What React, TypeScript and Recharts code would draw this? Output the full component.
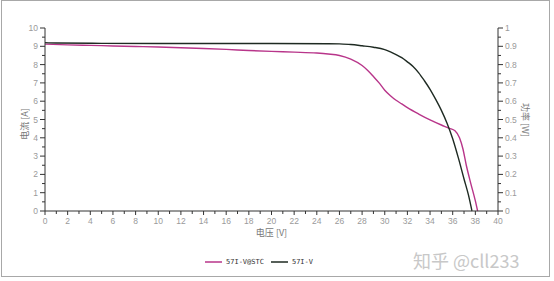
import React from 'react';
import { LineChart, Line, XAxis, YAxis, Legend } from 'recharts';

const stcCurve = [
  { v: 0, i: 9.12 }, { v: 2, i: 9.08 }, { v: 4, i: 9.05 }, { v: 6, i: 9.02 }, { v: 8, i: 8.99 },
  { v: 10, i: 8.96 }, { v: 12, i: 8.92 }, { v: 14, i: 8.88 }, { v: 16, i: 8.83 }, { v: 18, i: 8.77 },
  { v: 20, i: 8.72 }, { v: 22, i: 8.68 }, { v: 24, i: 8.63 }, { v: 25, i: 8.58 }, { v: 26, i: 8.5 },
  { v: 27, i: 8.3 }, { v: 28, i: 7.95 }, { v: 28.5, i: 7.68 }, { v: 29, i: 7.35 }, { v: 29.5, i: 7.0 },
  { v: 30, i: 6.6 }, { v: 30.5, i: 6.3 }, { v: 31, i: 6.05 }, { v: 31.5, i: 5.85 }, { v: 32, i: 5.65 },
  { v: 33, i: 5.3 }, { v: 34, i: 4.98 }, { v: 35, i: 4.7 }, { v: 35.7, i: 4.52 }, { v: 36.2, i: 4.38 },
  { v: 36.6, i: 4.0 }, { v: 36.9, i: 3.4 }, { v: 37.2, i: 2.5 }, { v: 37.6, i: 1.5 }, { v: 38, i: 0.55 },
  { v: 38.2, i: 0 },
];

const ivCurve = [
  { v: 0, i: 9.2 }, { v: 1, i: 9.18 }, { v: 5, i: 9.16 }, { v: 10, i: 9.15 }, { v: 15, i: 9.15 },
  { v: 20, i: 9.15 }, { v: 25, i: 9.14 }, { v: 26, i: 9.13 }, { v: 27, i: 9.1 }, { v: 28, i: 9.03 },
  { v: 29, i: 8.95 }, { v: 30, i: 8.82 }, { v: 30.5, i: 8.7 }, { v: 31, i: 8.55 }, { v: 31.5, i: 8.38 },
  { v: 32, i: 8.15 }, { v: 32.5, i: 7.9 }, { v: 33, i: 7.55 }, { v: 33.5, i: 7.12 }, { v: 34, i: 6.65 },
  { v: 34.5, i: 6.1 }, { v: 35, i: 5.5 }, { v: 35.5, i: 4.8 }, { v: 36, i: 3.95 }, { v: 36.5, i: 2.9 },
  { v: 37, i: 1.75 }, { v: 37.4, i: 0.85 }, { v: 37.7, i: 0 },
];

const xTicks = [0,1,2,3,4,5,6,7,8,9,10,11,12,13,14,15,16,17,18,19,20,21,22,23,24,25,26,27,28,29,30,31,32,33,34,35,36,37,38,39,40];
const leftTicks = [0,0.5,1,1.5,2,2.5,3,3.5,4,4.5,5,5.5,6,6.5,7,7.5,8,8.5,9,9.5,10];
const rightTicks = [0,0.05,0.1,0.15,0.2,0.25,0.3,0.35,0.4,0.45,0.5,0.55,0.6,0.65,0.7,0.75,0.8,0.85,0.9,0.95,1];

const seriesNames = ['57I-V@STC', '57I-V'];
const seriesColors = ['#b8358a', '#1e2a22'];
const xTitle = '电压 [V]';
const leftTitle = '电流 [A]';
const rightTitle = '功率 [W]';
const watermark = '知乎 @cll233';

const tickFont = 'Liberation Sans, Arial, sans-serif';
const tickColor = '#9a9a9a';
const axisColor = '#333';

const XTick = (props: any) => {
  const { x, y, payload } = props;
  const major = payload.value % 2 === 0;
  return (
    <g>
      <line x1={x} x2={x} y1={y} y2={y + (major ? 4 : 3)} stroke={axisColor} strokeWidth={1} />
      {major && (
        <text x={x} y={y + 13} textAnchor="middle" fontSize={8.5} fill={tickColor} fontFamily={tickFont}>
          {payload.value}
        </text>
      )}
    </g>
  );
};

const LeftTick = (props: any) => {
  const { x, y, payload } = props;
  const major = Number.isInteger(payload.value);
  return (
    <g>
      <line x1={x} x2={x - (major ? 5 : 3)} y1={y} y2={y} stroke={axisColor} strokeWidth={1} />
      {major && (
        <text x={x - 7} y={y + 3} textAnchor="end" fontSize={8.5} fill={tickColor} fontFamily={tickFont}>
          {payload.value}
        </text>
      )}
    </g>
  );
};

const RightTick = (props: any) => {
  const { x, y, payload } = props;
  const major = Math.round(payload.value * 100) % 10 === 0;
  return (
    <g>
      <line x1={x} x2={x + (major ? 5 : 3)} y1={y} y2={y} stroke={axisColor} strokeWidth={1} />
      {major && (
        <text x={x + 7} y={y + 3} textAnchor="start" fontSize={8.5} fill={tickColor} fontFamily={tickFont}>
          {Math.round(payload.value * 10) / 10}
        </text>
      )}
    </g>
  );
};

const LegendContent = () => (
  <div style={{ display: 'flex', alignItems: 'center', marginLeft: 205, marginTop: 5, height: 12 }}>
    {seriesNames.map((n, k) => (
      <div key={n} style={{ display: 'flex', alignItems: 'center', marginRight: 7 }}>
        <svg width={17} height={4} style={{ marginRight: 4 }}>
          <line x1={0} x2={17} y1={2} y2={2} stroke={seriesColors[k]} strokeWidth={1.5} />
        </svg>
        <span style={{ fontSize: 7, fontFamily: 'DejaVu Sans Mono, monospace', color: '#333' }}>{n}</span>
      </div>
    ))}
  </div>
);

export default function App() {
  return (
    <div style={{ position: 'fixed', left: 0, top: 0, width: 554, height: 281, background: '#fff' }}>
      <LineChart width={554} height={281} margin={{ top: 28, right: 0, left: 0, bottom: 0 }}>
        <XAxis
          dataKey="v"
          type="number"
          domain={[0, 40]}
          ticks={xTicks}
          interval={0}
          tickSize={0}
          tickMargin={0}
          tick={<XTick />}
          height={40}
          stroke={axisColor}
          allowDuplicatedCategory={false}
          label={(p: any) => {
            const vb = p.viewBox;
            return (
              <text x={vb.x + vb.width / 2} y={vb.y + 25} textAnchor="middle" fontSize={9} fill="#777" fontFamily="Noto Sans CJK SC, sans-serif">
                {xTitle}
              </text>
            );
          }}
        />
        <YAxis
          yAxisId="left"
          type="number"
          domain={[0, 10]}
          ticks={leftTicks}
          interval={0}
          tickSize={0}
          tickMargin={0}
          tick={<LeftTick />}
          width={45}
          stroke={axisColor}
          label={() => {
            const cx = 24;
            const cy = 124;
            return (
              <text x={cx} y={cy} transform={`rotate(-90 ${cx} ${cy})`} textAnchor="middle" dominantBaseline="central" fontSize={9} fill="#777" fontFamily="Noto Sans CJK SC, sans-serif">
                {leftTitle}
              </text>
            );
          }}
        />
        <YAxis
          yAxisId="right"
          orientation="right"
          type="number"
          domain={[0, 1]}
          allowDataOverflow={true}
          ticks={rightTicks}
          interval={0}
          tickSize={0}
          tickMargin={0}
          tick={<RightTick />}
          width={56}
          stroke={axisColor}
          label={() => {
            const cx = 525;
            const cy = 120;
            return (
              <text x={cx} y={cy} transform={`rotate(90 ${cx} ${cy})`} textAnchor="middle" dominantBaseline="central" fontSize={9} fill="#777" fontFamily="Noto Sans CJK SC, sans-serif">
                {rightTitle}
              </text>
            );
          }}
        />
        <Legend verticalAlign="bottom" height={30} wrapperStyle={{ left: 0, width: 554 }} content={<LegendContent />} />
        <Line yAxisId="left" data={stcCurve} dataKey="i" name={seriesNames[0]} type="monotone" stroke={seriesColors[0]} strokeWidth={1.4} dot={false} isAnimationActive={false} />
        <Line yAxisId="left" data={ivCurve} dataKey="i" name={seriesNames[1]} type="monotone" stroke={seriesColors[1]} strokeWidth={1.4} dot={false} isAnimationActive={false} />
      </LineChart>
      <div style={{ position: 'absolute', left: 413, top: 247, fontSize: 18, color: '#c8c8c8', fontFamily: 'Noto Sans CJK SC, sans-serif', whiteSpace: 'nowrap' }}>
        {watermark}
      </div>
      <div style={{ position: 'absolute', left: 1, top: 0, width: 547, height: 275, border: '1px solid #a8a8a8', pointerEvents: 'none' }} />
    </div>
  );
}
